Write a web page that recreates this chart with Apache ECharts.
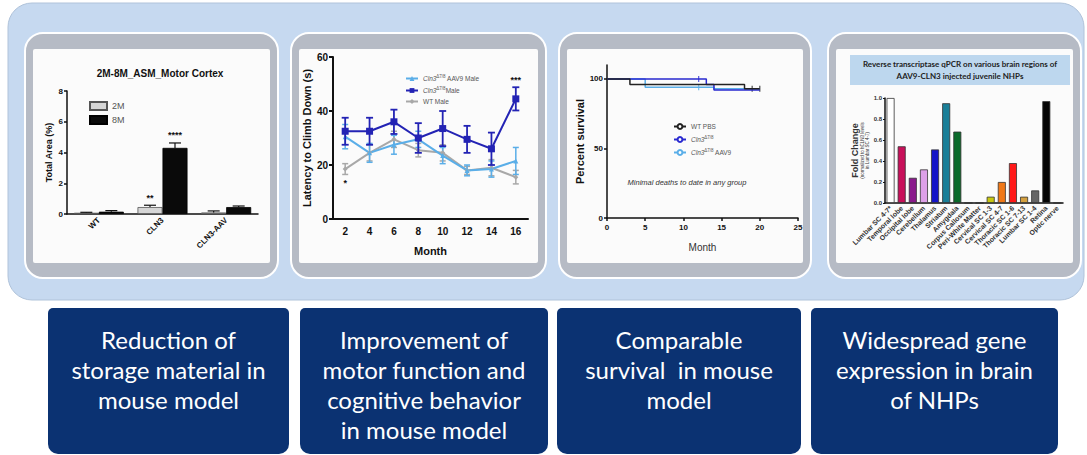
<!DOCTYPE html>
<html>
<head>
<meta charset="utf-8">
<script src="https://cdn.jsdelivr.net/npm/echarts@6/dist/echarts.min.js"></script>
<style>
  html, body { margin: 0; padding: 0; background: #fff; }
  #chart { width: 1087px; height: 455px; }
</style>
</head>
<body>
<div id="chart"></div>
<script>
// --- panel 1: storage material (ASM, motor cortex)
const asmGroups = ["WT", "CLN3", "CLN3-AAV"];
const asm2M = [0.08, 0.45, 0.1];
const asm2MErr = [0.03, 0.12, 0.1];
const asm8M = [0.15, 4.3, 0.45];
const asm8MErr = [0.07, 0.32, 0.07];
const asm2MSig = ["", "**", ""];
const asm8MSig = ["", "****", ""];

// --- panel 2: latency to climb down
const months = ["2", "4", "6", "8", "10", "12", "14", "16"];
const koMale = [32.5, 32.5, 36, 30, 33.5, 29.5, 26, 44.5];
const koMaleErr = [5, 5, 4.5, 5.5, 6.5, 5, 6, 4.3];
const aavMale = [30.5, 24.5, 27.5, 29.5, 23.5, 18, 18.5, 21.5];
const aavMaleErr = [4.5, 3.5, 3.5, 3, 3, 2, 3, 5];
const wtMale = [18.5, 24.5, 29.5, 25.5, 24.5, 18, 19, 15.5];
const wtMaleErr = [2, 3, 3, 2.5, 3, 1.5, 3, 2.5];
const koSigAbove = ["", "", "", "", "", "", "", "***"];
const wtSigBelow = ["*", "", "", "", "", "", "", ""];

// --- panel 3: survival
const wtPbsMonths = [0, 3, 13, 18, 20];
const wtPbsSurv = [100, 96, 96, 93, 93];
const koMonths = [0, 13, 14, 20];
const koSurv = [100, 96, 92, 92];
const aavMonths = [0, 5, 14, 20];
const aavSurv = [100, 94, 93, 93];
const wtPbsCensor = [19, 20];
const koCensor = [12];
const aavCensor = [12];

// --- panel 4: qPCR in NHP tissues
const regions = ["Lumbar SC 4-7*", "Temporal lobe", "Occipital lobe", "Cerebellum",
  "Thalamus", "Striatum", "Amygdala", "Corpus Callosum", "Peri-White Matter",
  "Cervical SC 1-3", "Cervical SC 4-7", "Thoracic SC 1-6", "Thoracic SC 7-13",
  "Lumbar SC 1-4", "Retina", "Optic nerve"];
const foldChange = [1.0, 0.54, 0.24, 0.32, 0.51, 0.95, 0.68, 0, 0, 0.06, 0.2, 0.38, 0.06, 0.12, 0.97, 0];
const regionColors = ["#ffffff", "#c8105a", "#8a1a8c", "#dda0e8", "#1414c8", "#1a7f98",
  "#0a6a2a", "#888888", "#888888", "#c8c810", "#f07818", "#ff1818", "#d4a040",
  "#666666", "#050505", "#888888"];

const boxTexts = [
  "Reduction of\nstorage material in\nmouse model",
  "Improvement of\nmotor function and\ncognitive behavior\nin mouse model",
  "Comparable\nsurvival  in mouse\nmodel",
  "Widespread gene\nexpression in brain\nof NHPs",
];

const FONT = "Liberation Sans, Arial, sans-serif";
const INK = "#111";

// layout of the gray panels and the navy boxes
const panels = [[25, 278], [291, 546], [559, 811], [828, 1081]];
const boxes = [[48, 289], [300, 548], [557, 801], [811, 1058]];

const chart = echarts.init(document.getElementById("chart"), null, { renderer: "svg" });

function errorSeries(axis, values, errs, color, opts) {
  opts = opts || {};
  return {
    type: "custom",
    xAxisIndex: axis,
    yAxisIndex: axis,
    z: opts.z || 3,
    silent: true,
    data: values.map((v, i) => [i, v, errs[i]]),
    encode: { x: 0, y: 1 },
    renderItem: (params, api) => {
      const i = api.value(0), v = api.value(1), e = api.value(2);
      const dx = opts.dx || 0, cap = opts.cap || 3, lw = opts.lineWidth || 1.2;
      const mid = api.coord([i, v]);
      const top = api.coord([i, v + e]);
      const bot = opts.upOnly ? mid : api.coord([i, v - e]);
      const x = mid[0] + dx;
      const st = { stroke: color, lineWidth: lw };
      const kids = [
        { type: "line", shape: { x1: x, y1: bot[1], x2: x, y2: top[1] }, style: st },
        { type: "line", shape: { x1: x - cap, y1: top[1], x2: x + cap, y2: top[1] }, style: st },
      ];
      if (!opts.upOnly) {
        kids.push({ type: "line", shape: { x1: x - cap, y1: bot[1], x2: x + cap, y2: bot[1] }, style: st });
      }
      const up = opts.sigAbove && opts.sigAbove[params.dataIndex];
      if (up) {
        kids.push({ type: "text", x: x, y: top[1] - 3,
          style: { text: up, fill: INK, font: "bold 9px " + FONT, align: "center", verticalAlign: "bottom" } });
      }
      const down = opts.sigBelow && opts.sigBelow[params.dataIndex];
      if (down) {
        kids.push({ type: "text", x: x, y: bot[1] + 4,
          style: { text: down, fill: INK, font: "bold 9px " + FONT, align: "center", verticalAlign: "top" } });
      }
      return { type: "group", children: kids };
    },
  };
}

function steps(ts, vs) {
  return ts.map((t, i) => [t, vs[i]]);
}

const axisLineStyle = (w) => ({ show: true, lineStyle: { color: INK, width: w } });
const tickLabel = (size) => ({ fontSize: size, fontWeight: "bold", color: INK, fontFamily: FONT });

// background graphics
const graphic = [
  { type: "rect", z: -20, shape: { x: 8, y: 3, width: 1076, height: 297, r: 24 },
    style: { fill: "#c6d9f0", stroke: "#b0c3da", lineWidth: 1 } },
];
panels.forEach(([a, b]) => {
  graphic.push({ type: "rect", z: -19, shape: { x: a, y: 33, width: b - a, height: 245, r: 18 },
    style: { fill: "#b6bbc5", stroke: "#ffffff", lineWidth: 2 } });
  graphic.push({ type: "rect", z: -18, shape: { x: a + 8, y: 49, width: b - a - 16, height: 214, r: 2 },
    style: { fill: "#fbfbfb" } });
});
boxes.forEach(([a, b], i) => {
  graphic.push({ type: "rect", z: -19, shape: { x: a, y: 308, width: b - a, height: 146, r: [5, 5, 10, 10] },
    style: { fill: "#0b3272" } });
  graphic.push({ type: "text", z: 5, x: (a + b) / 2, y: 324,
    style: { text: boxTexts[i], fill: "#ffffff", font: "24px Lato", lineHeight: 30,
      align: "center", verticalAlign: "top" } });
});
graphic.push({ type: "text", x: 160, y: 73,
  style: { text: "2M-8M_ASM_Motor Cortex", fill: INK, font: "bold 10px " + FONT, align: "center", verticalAlign: "middle" } });
graphic.push({ type: "text", x: 687, y: 182,
  style: { text: "Minimal deaths to date in any group", fill: "#333", font: "italic 7.5px " + FONT,
    align: "center", verticalAlign: "middle" } });
graphic.push({ type: "rect", z: -10, shape: { x: 850, y: 55, width: 220, height: 30 }, style: { fill: "#bdd7ee" } });
graphic.push({ type: "text", x: 960, y: 70,
  style: { text: "Reverse transcriptase qPCR on various brain regions of\nAAV9-CLN3 injected juvenile NHPs",
    fill: "#222", font: "bold 8px Lato", lineHeight: 12, align: "center", verticalAlign: "middle" } });

const cln3Label = {
  "Cln3 AAV9 Male": "{it|Cln3}{sup|Δ7/8}{t| AAV9 Male}",
  "Cln3 Male": "{it|Cln3}{sup|Δ7/8}{t|Male}",
  "WT Male": "{t|WT Male}",
  "WT PBS": "{t|WT PBS}",
  "Cln3 d78": "{it|Cln3}{sup|Δ7/8}",
  "Cln3 d78 AAV9": "{it|Cln3}{sup|Δ7/8}{t| AAV9}",
};
const legendRich = {
  it: { fontStyle: "italic", fontSize: 6.5, color: "#555", fontFamily: FONT },
  sup: { fontSize: 4.5, color: "#555", verticalAlign: "top", padding: [0, 0, 4, 0], fontFamily: FONT },
  t: { fontSize: 6.5, color: "#555", fontFamily: FONT },
};

const option = {
  animation: false,
  backgroundColor: "#ffffff",
  textStyle: { fontFamily: FONT },
  graphic: graphic,
  legend: [
    { data: ["2M", "8M"], orient: "vertical", left: 84, top: 96, itemWidth: 17, itemHeight: 8,
      itemGap: 4, icon: "rect", textStyle: { fontSize: 9, color: "#555" } },
    { data: ["Cln3 AAV9 Male", "Cln3 Male", "WT Male"], orient: "vertical", left: 400, top: 69,
      itemWidth: 12, itemHeight: 6, itemGap: 4, formatter: (n) => cln3Label[n],
      textStyle: { rich: legendRich } },
    { data: ["WT PBS", "Cln3 d78", "Cln3 d78 AAV9"], orient: "vertical", left: 668, top: 118,
      itemWidth: 12, itemHeight: 6, itemGap: 5, formatter: (n) => cln3Label[n],
      textStyle: { rich: legendRich } },
  ],
  grid: [
    { left: 67, top: 91, width: 191, height: 123 },
    { left: 333, top: 57, width: 195, height: 162 },
    { left: 607, top: 65, width: 191, height: 153 },
    { left: 885, top: 98, width: 178, height: 105 },
  ],
  xAxis: [
    { gridIndex: 0, type: "category", data: asmGroups, axisLine: axisLineStyle(1.5),
      axisTick: { show: false }, axisLabel: Object.assign(tickLabel(8), { rotate: 45, interval: 0, margin: 5 }) },
    { gridIndex: 1, type: "category", data: months, axisLine: axisLineStyle(2),
      axisTick: { alignWithLabel: true, length: 4, lineStyle: { color: INK, width: 2 } },
      axisLabel: Object.assign(tickLabel(10), { margin: 7 }),
      name: "Month", nameLocation: "middle", nameGap: 26,
      nameTextStyle: { fontSize: 11, fontWeight: "bold", color: INK } },
    { gridIndex: 2, type: "value", min: 0, max: 25, interval: 5, axisLine: axisLineStyle(1.5),
      axisTick: { length: 3, lineStyle: { color: INK, width: 1.5 } }, splitLine: { show: false },
      axisLabel: Object.assign(tickLabel(8), { margin: 5 }),
      name: "Month", nameLocation: "middle", nameGap: 24,
      nameTextStyle: { fontSize: 10, color: "#333" } },
    { gridIndex: 3, type: "category", data: regions, axisLine: axisLineStyle(1.5),
      axisTick: { alignWithLabel: true, length: 3, lineStyle: { color: INK, width: 1 } },
      axisLabel: { rotate: 45, interval: 0, margin: 4, fontSize: 7, fontWeight: "bold", color: "#333" } },
  ],
  yAxis: [
    { gridIndex: 0, type: "value", min: 0, max: 8, interval: 2, axisLine: axisLineStyle(1.5),
      axisTick: { show: true, length: 3, lineStyle: { color: INK, width: 1.5 } }, splitLine: { show: false },
      axisLabel: Object.assign(tickLabel(8), { margin: 4 }),
      name: "Total Area (%)", nameLocation: "middle", nameGap: 14, nameRotate: 90,
      nameTextStyle: { fontSize: 9, fontWeight: "bold", color: INK } },
    { gridIndex: 1, type: "value", min: 0, max: 60, interval: 20, axisLine: axisLineStyle(2),
      axisTick: { show: true, length: 4, lineStyle: { color: INK, width: 2 } }, splitLine: { show: false },
      axisLabel: Object.assign(tickLabel(10), { margin: 5 }),
      name: "Latency to Climb Down (s)", nameLocation: "middle", nameGap: 17, nameRotate: 90,
      nameTextStyle: { fontSize: 11, fontWeight: "bold", color: INK } },
    { gridIndex: 2, type: "value", min: 0, max: 110, axisLine: axisLineStyle(1.5),
      axisTick: { show: true, length: 3, customValues: [0, 50, 100], lineStyle: { color: INK, width: 1.5 } },
      splitLine: { show: false },
      axisLabel: Object.assign(tickLabel(8), { margin: 4, customValues: [0, 50, 100] }),
      name: "Percent survival", nameLocation: "middle", nameGap: 20, nameRotate: 90,
      nameTextStyle: { fontSize: 11, fontWeight: "bold", color: INK } },
    { gridIndex: 3, type: "value", min: 0, max: 1, interval: 0.2, axisLine: axisLineStyle(1.5),
      axisTick: { show: true, length: 2, lineStyle: { color: INK, width: 1 } }, splitLine: { show: false },
      axisLabel: { fontSize: 6, fontWeight: "bold", color: "#333", margin: 3, formatter: (v) => v.toFixed(1) },
      name: "{a|Fold Change}\n{b|(normalized to hCLN3 levels}\n{b|in Lumbar SC 4-7)}",
      nameLocation: "middle", nameGap: 14, nameRotate: 90,
      nameTextStyle: { rich: {
        a: { fontSize: 9, fontWeight: "bold", color: "#333", lineHeight: 10 },
        b: { fontSize: 4.5, color: "#333", lineHeight: 5 } } } },
  ],
  series: [
    // panel 1
    { name: "2M", type: "bar", xAxisIndex: 0, yAxisIndex: 0, data: asm2M, barWidth: 25, barGap: "0%",
      itemStyle: { color: "#d6d6d6", borderColor: "#555", borderWidth: 0.8 } },
    { name: "8M", type: "bar", xAxisIndex: 0, yAxisIndex: 0, data: asm8M, barWidth: 25, barGap: "0%",
      itemStyle: { color: "#0a0a0a", borderColor: "#000", borderWidth: 0.8 } },
    errorSeries(0, asm2M, asm2MErr, INK, { dx: -12.5, upOnly: true, cap: 6, sigAbove: asm2MSig }),
    errorSeries(0, asm8M, asm8MErr, INK, { dx: 12.5, upOnly: true, cap: 6, sigAbove: asm8MSig }),

    // panel 2
    errorSeries(1, wtMale, wtMaleErr, "#a8a8a8", { cap: 3, lineWidth: 1.5, sigBelow: wtSigBelow }),
    errorSeries(1, aavMale, aavMaleErr, "#5aaee8", { cap: 3, lineWidth: 1.5 }),
    errorSeries(1, koMale, koMaleErr, "#2323b4", { cap: 3.5, lineWidth: 1.8, z: 4, sigAbove: koSigAbove }),
    { name: "WT Male", type: "line", xAxisIndex: 1, yAxisIndex: 1, data: wtMale, symbol: "diamond",
      symbolSize: 5, itemStyle: { color: "#a8a8a8" }, lineStyle: { width: 2 } },
    { name: "Cln3 AAV9 Male", type: "line", xAxisIndex: 1, yAxisIndex: 1, data: aavMale, symbol: "triangle",
      symbolSize: 5, itemStyle: { color: "#5aaee8" }, lineStyle: { width: 2 } },
    { name: "Cln3 Male", type: "line", xAxisIndex: 1, yAxisIndex: 1, data: koMale, symbol: "rect",
      symbolSize: 7, z: 5, itemStyle: { color: "#2323b4" }, lineStyle: { width: 2 } },

    // panel 3
    { name: "Cln3 d78 AAV9", type: "line", step: "end", xAxisIndex: 2, yAxisIndex: 2,
      data: steps(aavMonths, aavSurv), showSymbol: false, itemStyle: { color: "#5aaee8" }, lineStyle: { width: 1.5 } },
    { name: "Cln3 d78", type: "line", step: "end", xAxisIndex: 2, yAxisIndex: 2,
      data: steps(koMonths, koSurv), showSymbol: false, itemStyle: { color: "#2a2ad0" }, lineStyle: { width: 1.5 } },
    { name: "WT PBS", type: "line", step: "end", xAxisIndex: 2, yAxisIndex: 2,
      data: steps(wtPbsMonths, wtPbsSurv), showSymbol: false, itemStyle: { color: "#222" }, lineStyle: { width: 1.5 } },
    { type: "scatter", xAxisIndex: 2, yAxisIndex: 2, symbol: "rect", symbolSize: [1.2, 6],
      data: wtPbsCensor.map((t) => [t, 93]), itemStyle: { color: "#222" } },
    { type: "scatter", xAxisIndex: 2, yAxisIndex: 2, symbol: "rect", symbolSize: [1.2, 6],
      data: koCensor.map((t) => [t, 100]), itemStyle: { color: "#2a2ad0" } },
    { type: "scatter", xAxisIndex: 2, yAxisIndex: 2, symbol: "rect", symbolSize: [1.2, 6],
      data: aavCensor.map((t) => [t, 94]), itemStyle: { color: "#5aaee8" } },

    // panel 4
    { name: "Fold Change", type: "bar", xAxisIndex: 3, yAxisIndex: 3, barWidth: 8,
      data: foldChange.map((v, i) => ({ value: v, itemStyle: { color: regionColors[i] } })),
      itemStyle: { borderColor: "#333", borderWidth: 0.8 } },
  ],
};

chart.setOption(option);
</script>
</body>
</html>
